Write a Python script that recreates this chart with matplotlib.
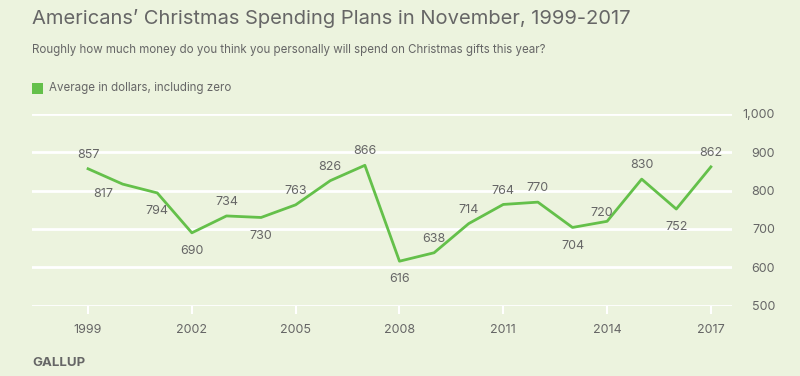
import matplotlib.pyplot as plt
from matplotlib.patches import Rectangle

plt.rcParams['font.family'] = ['Inter', 'DejaVu Sans']

years = list(range(1999, 2018))
spending = [857, 817, 794, 690, 734, 730, 763, 826, 866, 616,
            638, 714, 764, 770, 704, 720, 830, 752, 862]
# 1 = label above the point, -1 = below
label_side = [1, -1, -1, -1, 1, -1, 1, 1, 1, -1,
              1, 1, 1, 1, -1, 1, 1, -1, 1]
xticks = [1999, 2002, 2005, 2008, 2011, 2014, 2017]
yticks = [500, 600, 700, 800, 900, 1000]

bg = '#ECF3DE'
green = '#64C04A'
grey = '#666666'

fig = plt.figure(figsize=(8, 3.76), dpi=100, facecolor=bg)
ax = fig.add_axes([0.04, 0.187, 0.875, 0.51], facecolor=bg)

for y in yticks:
    ax.axhline(y, color='white', lw=2, zorder=1)

ax.plot(years, spending, color=green, lw=2, zorder=3)

# a couple of labels are nudged off the line, as in the original
nudge = {2000: (-14, -7), 2014: (-4, 6)}
for x, v, s in zip(years, spending, label_side):
    dx, dy = nudge.get(x, (0, 10 if s > 0 else -13))
    ax.annotate(str(v), (x, v), xytext=(dx, dy), textcoords='offset points',
                ha='center', va='center', fontsize=9, color=grey)

ax.set_xlim(1997.38, 2017.61)
ax.set_ylim(500, 1000)
ax.set_xticks(xticks)
ax.set_xticklabels([str(t) for t in xticks])
ax.tick_params(axis='x', length=6, width=1.5, color='white', labelcolor=grey,
               labelsize=9, pad=7)
ax.set_yticks(yticks)
ax.set_yticklabels([f'{t:,}' for t in yticks])
ax.yaxis.tick_right()
ax.tick_params(axis='y', length=0, labelcolor=grey, labelsize=9, pad=31)
for lbl in ax.get_yticklabels():
    lbl.set_ha('right')
for sp in ax.spines.values():
    sp.set_visible(False)

fig.text(32 / 800, 1 - 18 / 376, "Americans\u2019 Christmas Spending Plans in November, 1999-2017",
         fontsize=14.5, color=grey, va='center', ha='left')
fig.text(32 / 800, 1 - 50 / 376,
         "Roughly how much money do you think you personally will spend on Christmas gifts this year?",
         fontsize=8.3, color=grey, va='center', ha='left')
fig.patches.append(Rectangle((32 / 800, 1 - 94 / 376), 11 / 800, 11 / 376,
                             transform=fig.transFigure, facecolor=green, edgecolor='none'))
fig.text(49 / 800, 1 - 88.5 / 376, "Average in dollars, including zero",
         fontsize=8.3, color=grey, va='center', ha='left')
fig.text(32 / 800, 1 - 363 / 376, "GALLUP", fontsize=9.5, fontweight='bold',
         color=grey, va='center', ha='left')

fig.savefig('out.png', dpi=100, facecolor=bg)
